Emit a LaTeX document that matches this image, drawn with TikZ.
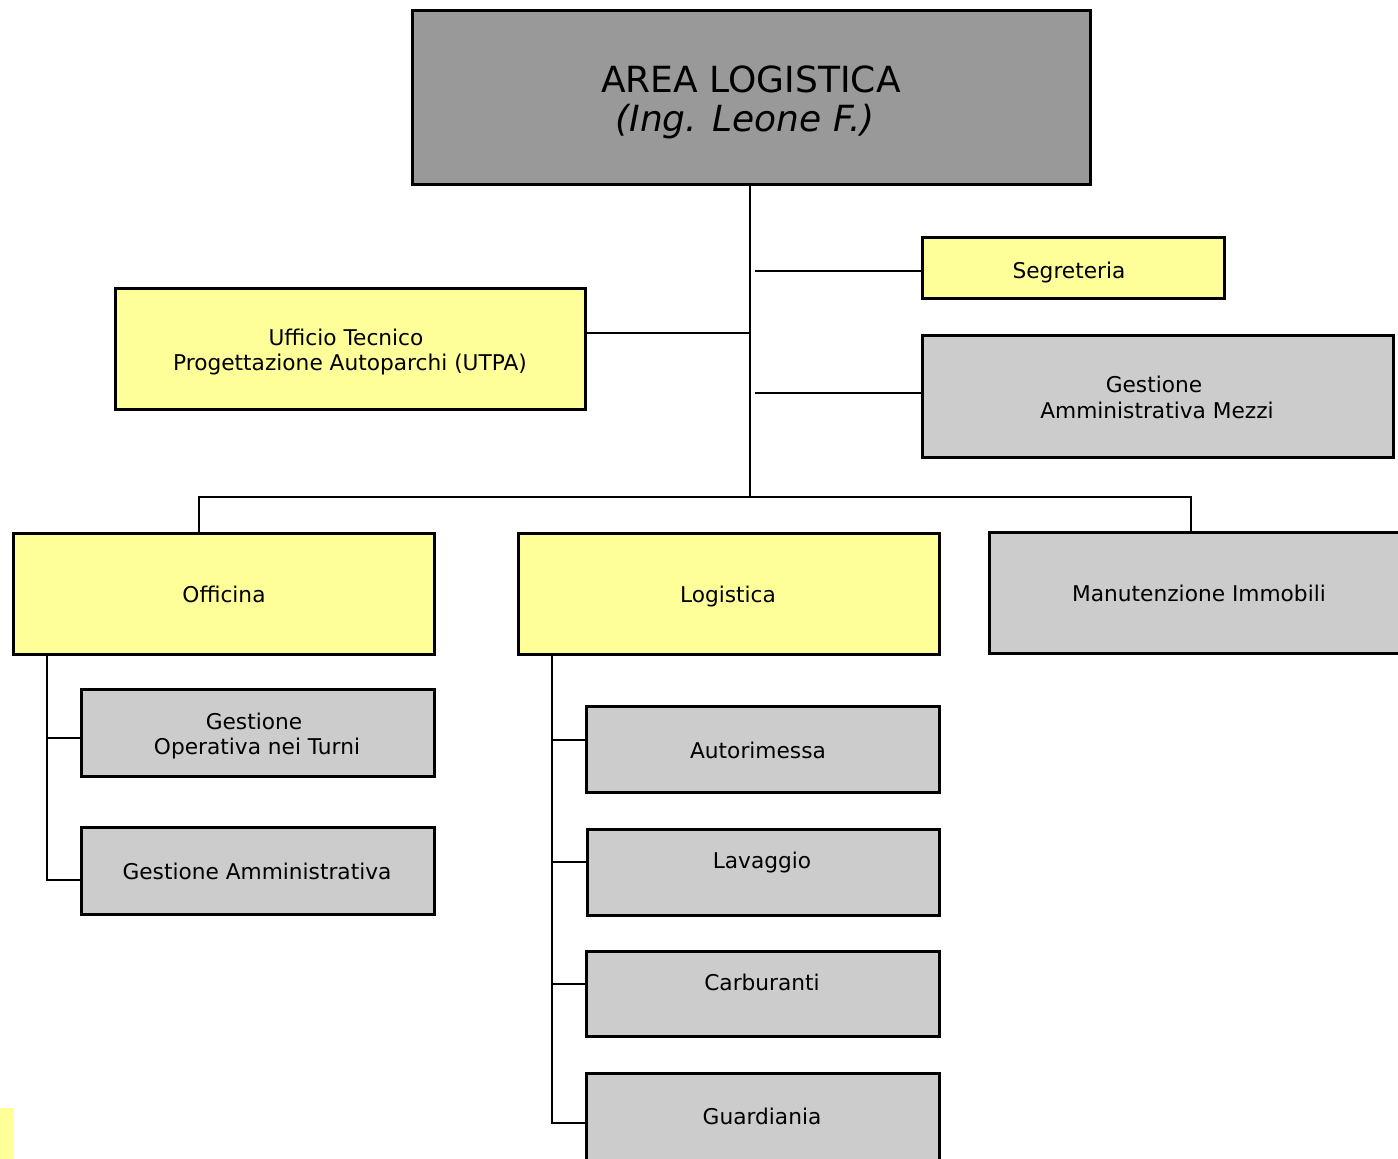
\documentclass[tikz,border=0pt]{standalone}
\usepackage{fontspec}
\setmainfont{DejaVu Sans}
\definecolor{yel}{HTML}{FFFF99}
\definecolor{lgray}{HTML}{CCCCCC}
\definecolor{dgray}{HTML}{999999}
\begin{document}
\begin{tikzpicture}[x=1pt,y=-1pt,
  box/.style={draw=black, line width=3pt, inner sep=0pt, outer sep=0pt},
  ybox/.style={box, fill=yel},
  gbox/.style={box, fill=lgray},
  conn/.style={line width=2pt, draw=black},
  lbl/.style={font=\fontsize{21.7}{25}\selectfont, align=center, inner sep=0pt, text height=16pt, text depth=4pt, yshift=-2.5pt}]
\useasboundingbox (0,0) rectangle (1398,1159);
% patch
\fill[yel] (0,1108) rectangle (14,1165);
% boxes
\node[box, fill=dgray, minimum width=678pt, minimum height=174pt] (top) at (751,97) {};
\node[ybox, minimum width=302pt, minimum height=61pt] (segr) at (1073,267.5) {};
\node[ybox, minimum width=470pt, minimum height=121pt] (utpa) at (350,348.5) {};
\node[gbox, minimum width=471pt, minimum height=122pt] (mezzi) at (1157.5,396) {};
\node[ybox, minimum width=421pt, minimum height=121pt] (offi) at (223.5,593.5) {};
\node[ybox, minimum width=421pt, minimum height=121pt] (logi) at (728.5,593.5) {};
\node[gbox, minimum width=416pt, minimum height=121pt] (manu) at (1197,592.5) {};
\node[gbox, minimum width=353pt, minimum height=87pt] (got) at (257.5,732.5) {};
\node[gbox, minimum width=353pt, minimum height=87pt] (ga) at (257.5,870.5) {};
\node[gbox, minimum width=353pt, minimum height=86pt] (auto) at (762.5,749) {};
\node[gbox, minimum width=352pt, minimum height=86pt] (lava) at (763,872) {};
\node[gbox, minimum width=353pt, minimum height=85pt] (carb) at (762.5,993.5) {};
\node[gbox, minimum width=353pt, minimum height=92pt] (guar) at (762.5,1119) {};
% texts
\node[font=\fontsize{36}{42}\selectfont, inner sep=0pt] (t1) at (751,79) {AREA LOGISTICA};
\node[font=\fontsize{36}{42}\selectfont\itshape, inner sep=0pt] (t2) at (745,122) {(Ing. Leone F.)};
\node[lbl] (ts) at (1069,270) {Segreteria};
\node[lbl] (tu1) at (346,337) {Ufficio Tecnico};
\node[lbl] (tu2) at (350,362) {Progettazione Autoparchi (UTPA)};
\node[lbl] (tm1) at (1154,384) {Gestione};
\node[lbl] (tm2) at (1157,410) {Amministrativa Mezzi};
\node[lbl] (to) at (224,594) {Officina};
\node[lbl] (tl) at (728,594) {Logistica};
\node[lbl] (tmi) at (1199,593) {Manutenzione Immobili};
\node[lbl] (tg1) at (254,721) {Gestione};
\node[lbl] (tg2) at (257,746) {Operativa nei Turni};
\node[lbl] (tga) at (257,871) {Gestione Amministrativa};
\node[lbl] (tau) at (758,750) {Autorimessa};
\node[lbl] (tla) at (762,860) {Lavaggio};
\node[lbl] (tca) at (762,982) {Carburanti};
\node[lbl] (tgu) at (762,1116) {Guardiania};
% connectors
\coordinate (bus) at (750,497);
\draw[conn] (top.south -| bus) -- (bus);
\coordinate (uj) at (750,333);
\draw[conn] (uj) -- (uj -| utpa.east);
\coordinate (sj) at (755,271);
\draw[conn] (sj) -- (sj -| segr.west);
\coordinate (mj) at (755,393);
\draw[conn] (mj) -- (mj -| mezzi.west);
\coordinate (bl) at (199,497);
\coordinate (br) at (1191,497);
\draw[conn] (bl |- offi.north) -- (bl) -- (br) -- (br |- manu.north);
% officina children
\coordinate (ot) at (47,654);
\coordinate (o1) at (47,738);
\coordinate (o2) at (47,880);
\draw[conn] (ot |- offi.south) -- (o2) -- (o2 -| ga.west);
\draw[conn] (o1) -- (o1 -| got.west);
% logistica children
\coordinate (lt) at (552,654);
\coordinate (l1) at (552,740);
\coordinate (l2) at (552,862);
\coordinate (l3) at (552,984);
\coordinate (l4) at (552,1123);
\draw[conn] (lt |- logi.south) -- (l4) -- (l4 -| guar.west);
\draw[conn] (l1) -- (l1 -| auto.west);
\draw[conn] (l2) -- (l2 -| lava.west);
\draw[conn] (l3) -- (l3 -| carb.west);
\end{tikzpicture}
\end{document}
